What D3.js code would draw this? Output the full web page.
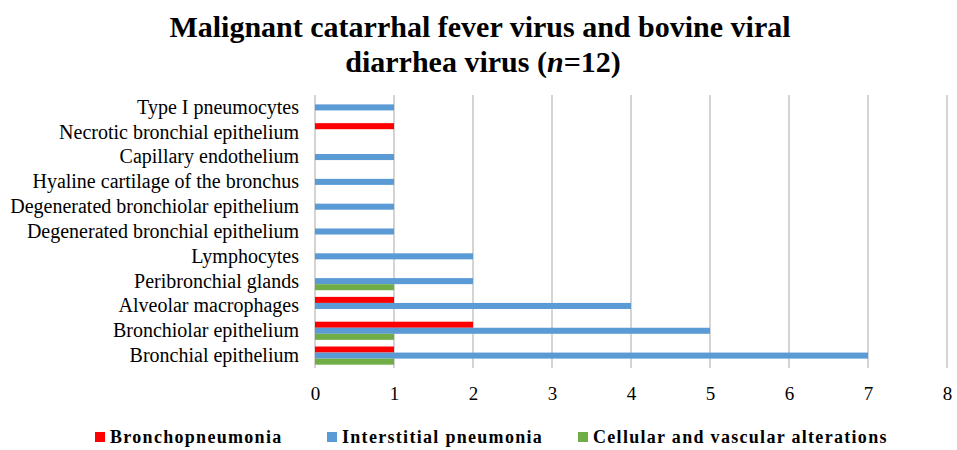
<!DOCTYPE html>
<html>
<head>
<meta charset="utf-8">
<script src="https://cdn.jsdelivr.net/npm/d3@7"></script>
<style>
  body { margin: 0; background: #fff; }
  svg text { font-family: "Liberation Serif", "Times New Roman", serif !important; }
</style>
</head>
<body>
<div id="chart"></div>
<script>
// categories top to bottom
const categories = [
    "Type I pneumocytes",
    "Necrotic bronchial epithelium",
    "Capillary endothelium",
    "Hyaline cartilage of the bronchus",
    "Degenerated bronchiolar epithelium",
    "Degenerated bronchial epithelium",
    "Lymphocytes",
    "Peribronchial glands",
    "Alveolar macrophages",
    "Bronchiolar epithelium",
    "Bronchial epithelium"
];
const bronchopneumonia = [0, 1, 0, 0, 0, 0, 0, 0, 1, 2, 1];
const interstitial = [1, 0, 1, 1, 1, 1, 2, 2, 4, 5, 7];
const cellular = [0, 0, 0, 0, 0, 0, 0, 1, 0, 1, 1];
const seriesNames = ["Bronchopneumonia", "Interstitial pneumonia", "Cellular and vascular alterations"];
const xTicks = [0, 1, 2, 3, 4, 5, 6, 7, 8];

const colors = ["#FF0000", "#5B9BD5", "#70AD47"];
const series = [bronchopneumonia, interstitial, cellular];

const W = 957, H = 450;
const svg = d3.select("#chart").append("svg")
    .attr("width", W)
    .attr("height", H);

// title
const title = svg.append("text")
    .attr("text-anchor", "middle")
    .style("font-size", "30px")
    .style("font-weight", "bold");
title.append("tspan").attr("x", 480).attr("y", 37)
    .text("Malignant catarrhal fever virus and bovine viral");
const t2 = title.append("tspan").attr("x", 483).attr("y", 72);
t2.append("tspan").text("diarrhea virus (");
t2.append("tspan").style("font-style", "italic").text("n");
t2.append("tspan").text("=12)");

const x = d3.scaleLinear().domain([0, 8]).range([315, 947]);
const y = d3.scaleBand().domain(categories).range([95, 368]);
const inner = d3.scaleBand().domain([0, 1, 2])
    .range([0, y.bandwidth()]).paddingOuter(0.55);

// gridlines
svg.append("g")
    .selectAll("line")
    .data(xTicks)
    .enter()
    .append("line")
    .attr("x1", d => x(d)).attr("x2", d => x(d))
    .attr("y1", 95).attr("y2", 368)
    .attr("stroke", "#D4D4D4")
    .attr("stroke-width", 2);

// bars
series.forEach((vals, si) => {
    svg.append("g")
        .selectAll("rect")
        .data(vals.map((v, i) => ({ v, cat: categories[i] })).filter(d => d.v > 0))
        .enter()
        .append("rect")
        .attr("x", x(0))
        .attr("y", d => y(d.cat) + inner(si))
        .attr("width", d => x(d.v) - x(0))
        .attr("height", inner.bandwidth())
        .attr("fill", colors[si]);
});

// x axis labels
const xAxis = svg.append("g")
    .attr("transform", "translate(0,368)")
    .call(d3.axisBottom(x).tickValues(xTicks).tickSize(0).tickPadding(19));
xAxis.attr("font-family", null);
xAxis.select(".domain").remove();
xAxis.selectAll("text")
    .style("font-size", "19px")
    .attr("fill", "#000");

// category labels
const yAxis = svg.append("g")
    .attr("transform", "translate(299,0)")
    .call(d3.axisLeft(y).tickSize(0).tickPadding(0));
yAxis.attr("font-family", null);
yAxis.select(".domain").remove();
yAxis.selectAll("text")
    .style("font-size", "20px")
    .attr("fill", "#000");

// legend
const legendX = [95, 327, 578];
const legend = svg.append("g")
    .selectAll("g")
    .data(seriesNames)
    .enter()
    .append("g")
    .attr("transform", (d, i) => `translate(${legendX[i]},443)`);
legend.append("rect")
    .attr("x", 0).attr("y", -11)
    .attr("width", 10).attr("height", 10)
    .attr("fill", (d, i) => colors[i]);
legend.append("text")
    .attr("x", 15)
    .attr("y", 0)
    .style("font-size", "18px")
    .style("font-weight", "bold")
    .style("letter-spacing", "1.3px")
    .text(d => d);
</script>
</body>
</html>
